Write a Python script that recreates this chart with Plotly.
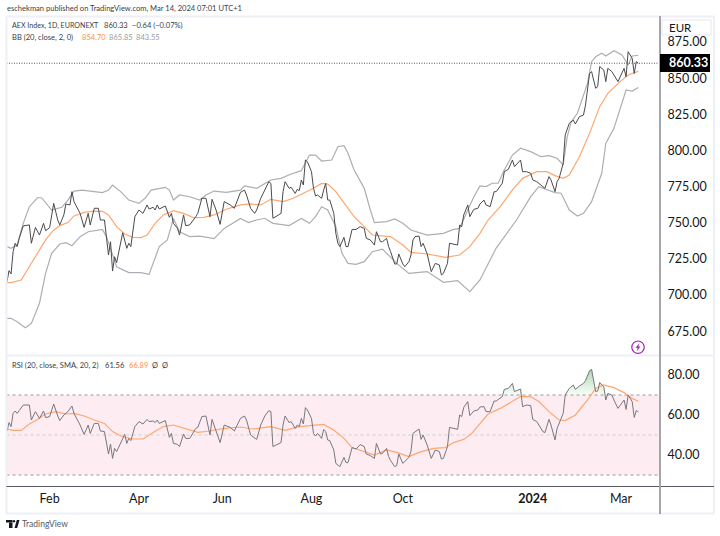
import numpy as np
import plotly.graph_objects as go

close_bars = [0,1,2,3,4,5,6,8,11,12,14,16,18,19,21,23,25,26,28,29,31,32,33,36,38,40,41,43,45,46,48,50,51,52,53,54,57,59,60,61,63,65,67,69,70,72,73,74,75,78,80,81,82,84,85,87,88,90,93,94,96,98,100,101,103,105,107,110,112,
 115,117,118,120,122,123,125,127,129,130,131,133,135,136,137,139,140,142,143,144,145,146,147,148,150,151,152,153,155,156,157,158,159,161,162,163,164,166,167,168,170,172,174,176,177,179,181,182,184,185,187,188,189,191,192,193,195,196,198,199,200,201,203,204,205,207,209,211,213,214,215,217,218,222,223,224,225,227,228,230,232,
 233,235,236,238,240,241,244,245,247,249,250,253,254,256,258,259,261,264,265,267,268,270,271,272,274,275,277,279,280,282,284,285,287,288,290,291,292,294,295,296,298,299,301,304,305,306,308,309,310,311]
close_vals = [709.3,716.9,714.6,730,735.8,733.5,739.2,747.8,748.5,735.8,746.8,741.5,749.6,744.5,746.6,763.4,751.9,748.5,755.4,763,762.3,771.5,764.6,756.5,746.8,756.5,748.5,760,760,751.9,751.9,727.7,736.9,716.6,726.5,722.4,743.1,732.3,735.8,733.5,754.2,758.8,756.5,762.3,759.5,760.7,758.8,762.3,759.5,761.6,753.8,756.5,749.6,746.1,741.5,755.4,748,748.5,754.2,756.5,766.9,766.9,754.2,766.2,758.8,748.9,764.6,762.3,760,
 771,772.6,769.2,760,756.5,758.8,766.9,772.6,778.4,777.2,753.1,754.7,756.5,771.5,778.4,773.8,774.5,770.3,773.1,772.2,779.6,776.1,793.4,792.2,785.3,773.8,768.5,769.2,766.9,772.6,777.2,765.7,765.7,756.5,742.7,735.8,733.5,739.9,733.5,733.5,745.4,745.4,747.3,746.1,739.2,738.1,734.6,743.8,736.9,736.9,739.2,733.5,730,721.5,721.5,728.4,721.5,719.6,723.1,727.7,738.1,740.4,740.8,733.5,735.8,728.4,716.2,721.9,720.8,713.9,715,721.9,735.8,734.6,748.4,747.3,755.4,762.3,754.2,759.3,760,
 763,765.7,762.3,761.1,771.5,771.5,777.3,785.3,787,793.4,788.8,793.4,785.3,785.3,784.2,779.6,778.4,775,773.8,781.9,779.6,771.5,778.4,780.7,791.1,810.7,818.8,821,818.3,823.4,824.5,831.4,853.3,854.5,843,844.1,858,855.6,847.6,856.8,854.5,852.2,847.6,856.8,851,868.3,863.7,853.3,861.4,860.33]

basis_bars = [0,2,7,9,12,15,19,23,26,30,33,38,43,47,50,54,58,62,66,69,73,77,82,87,92,97,102,108,115,120,125,130,136,141,146,151,155,158,162,167,171,176,180,189,195,199,207,216,223,228,233,237,243,249,254,261,266,270,274,277,282,287,292,296,302,306,311]
basis_vals = [708.6,708.6,710.4,715,721.9,728.9,738.1,745,748,750.1,754.7,757.2,758.1,757.9,755.4,747.3,742.2,739.9,739.7,741.5,749.6,755.4,758.4,756.5,753.5,753.7,755.4,759.3,762.3,763,762.3,766.2,764.6,766.9,770.3,773.8,777.2,776.8,771.5,762.3,754.2,747.3,741.5,740.4,734.6,729.5,728.4,726.1,727.7,733.5,742.7,751.9,761.1,772.7,780.7,785.3,785.3,782.6,780.7,783,795.7,811.8,830.3,839.5,847.6,852.2,854.7]

upper_bars = [0,2,5,8,11,15,17,20,22,27,30,33,37,41,47,50,52,56,60,65,68,71,78,80,82,85,90,95,98,102,108,115,117,123,130,135,140,145,149,152,155,160,163,166,168,171,176,179,181,187,191,195,199,207,215,220,223,227,230,233,236,239,242,245,249,253,258,263,267,271,274,276,278,281,286,288,290,293,295,299,303,306,308,311]
upper_vals = [733.5,732.3,734.6,749.6,761.1,767.3,767.3,762.3,758.8,760.7,765.7,771.9,772.6,771.9,770.8,772.6,776.1,771.5,765.7,763.4,766.9,772.6,774.5,772.6,765.7,769.2,768,765.7,769.2,771.9,771,772.5,775.4,773.8,779.6,780.7,783.7,786,796.8,796.8,792.7,793.4,802.6,803.3,798,786.5,773.8,758.8,750.1,750.8,752.6,749.6,745,741.5,742.7,745.4,746.1,758.8,768,775.5,775,777.3,777.3,786.5,796.8,801.5,799.2,795.7,796.4,794.6,790,809.5,819.9,825.7,846.4,861.4,864.8,867.2,865.3,869,866,859.1,865.3,865.85]

lower_bars = [0,2,5,9,12,16,19,22,26,29,32,36,40,47,49,54,60,66,70,73,75,79,82,85,90,95,102,107,115,119,123,127,131,139,145,149,152,155,158,162,165,168,172,176,180,185,192,198,207,215,222,228,233,241,251,258,262,270,273,277,281,284,288,293,295,299,303,305,308,311]
lower_vals = [683.9,683.9,681.6,677.4,680.4,694.3,715,728.9,735.3,736.2,734.1,740.4,743.8,745.4,740.4,719.6,715.5,715.5,714.3,726.5,733.5,738.1,753,743.8,740.4,740.8,739,746.1,753,750.1,751.9,753.1,749.6,748,753,749.6,754.2,761.1,758.8,747.3,728.9,721.9,721.2,723.1,730,731.8,721.9,715,716.2,708.8,710,702.3,710.4,732.5,751.9,768,775,770.8,770.4,758.8,754.7,756.5,764.6,784.2,804.9,815.3,832.6,841.8,841.1,843.55]

rsi_bars = [0,1,2,3,4,5,6,8,11,12,14,16,18,19,21,23,25,26,28,30,32,33,36,38,40,41,43,45,46,48,50,51,52,53,54,58,59,60,61,63,65,67,69,70,72,73,74,75,78,80,81,82,84,85,87,88,90,93,94,96,98,100,101,103,105,107,110,112,
 115,117,118,120,122,123,125,127,129,130,131,133,135,136,137,139,140,142,143,144,145,146,147,148,150,151,152,153,155,156,157,158,159,161,162,163,164,166,167,168,170,172,174,176,177,179,181,182,184,185,187,188,189,191,192,193,195,198,199,200,201,203,204,205,207,209,211,213,214,215,217,218,222,223,224,225,227,228,230,232,
 233,235,236,238,240,241,244,245,247,249,250,253,254,256,258,259,261,264,265,267,268,270,271,272,274,275,277,279,280,282,284,285,287,288,290,291,292,294,295,296,298,299,301,304,305,306,308,309,310,311]
rsi_vals = [52,56.2,54.2,60.8,62,60.8,62.2,65,65,57.5,61.7,58.3,62,58.7,59.2,65.5,59.5,57.2,60,61.7,64.5,60.8,55,50.3,55,50.8,55.8,55.8,52,51.7,40.5,45.5,38.3,43.3,41.7,50.3,45.8,48.3,47.2,54.2,56.7,55.5,57.8,56.7,57,56.2,57.5,55.8,57.2,48.8,50.8,45.8,45.3,44.2,50.5,48.3,48.3,53.3,53.8,59.2,59.5,50,57.8,52.5,46.2,55,53.8,52,
 58.3,59.5,57.5,50,48.3,47.8,55,59.5,62.2,61.7,44.2,45,46.2,55,59.5,56.2,56.7,53.3,55,54.2,58.3,55.5,63.7,62.5,58.3,50.8,49.5,50.8,48.3,52.8,51.7,47.5,47.2,42.5,35.8,35,34.2,38.8,36.2,36.2,43.7,43,45.2,44.2,40.5,39.7,38.3,45.8,40.5,40.8,43.3,39.2,37.2,34.2,34.7,40.5,35.8,38.8,41.7,50.8,51.7,53,47.8,50,45,38.3,42.5,41.7,38,38.3,44.2,53.8,52.8,60,59.2,63.8,66.7,59.7,62,62.5,
 64,64.2,61.7,61.7,67,67,69.2,72.8,73.3,75.8,71.7,73,64.2,65,64.7,57.8,56.7,51.7,51.2,57.8,55,47.5,53.3,55.8,60.8,70,73.3,75,72.8,74.5,75.8,77.2,82.2,82.8,71.7,72,76.2,74.2,67.5,70.8,70,67.5,63.3,67.5,62.8,70,66.7,58.8,62.2,61.56]

rsi_sma_bars = [0,3,7,11,15,19,24,29,33,38,43,48,52,56,62,67,72,77,82,88,94,100,107,115,121,130,137,144,151,156,161,166,170,176,181,187,192,198,203,210,216,220,225,229,233,237,243,249,253,258,262,267,272,275,280,286,290,294,299,304,308,311]
rsi_sma_vals = [53,52.3,52.3,55.5,57.8,60.5,61.7,60.5,60.8,59.5,57.5,55.8,51.7,49.5,48,48,51.2,54.2,55,53.3,51.3,52,53.3,54,53,54.2,52.3,54.2,54.7,55.3,52.5,48.3,43.7,41.7,40,42.5,41.3,39.2,41.3,43.3,43.7,46.2,47.8,50.8,55.8,60.5,63.3,66.7,69.2,69.2,66.7,61.7,57.5,57.2,60,67.5,73.3,75,73.7,71.2,68.3,66.89]

for a, b in [(close_bars, close_vals), (basis_bars, basis_vals), (upper_bars, upper_vals),
             (lower_bars, lower_vals), (rsi_bars, rsi_vals), (rsi_sma_bars, rsi_sma_vals)]:
    assert len(a) == len(b), (len(a), len(b))

x_tick_vals = [21, 65, 106, 150, 195, 259, 302.5]
x_tick_text = ["Feb", "Apr", "Jun", "Aug", "Oct", "<b>2024</b>", "Mar"]
price_ticks = [675, 700, 725, 750, 775, 800, 825, 850, 875]
rsi_ticks = [40, 60, 80]
rsi_levels = [30, 50, 70]
last_close = 860.33

W, H = 720, 536
FONT = "Lato"
INK = "#131722"
ORANGE = "#ffa66e"
BAND = "#adadb3"
FRAME = "#eef0f6"
SMALL = 7.55
px = lambda v: v / W
py = lambda v: 1 - v / H

fig = go.Figure()
fig.add_trace(go.Scatter(x=upper_bars, y=upper_vals, mode="lines", line=dict(color=BAND, width=1.2), yaxis="y"))
fig.add_trace(go.Scatter(x=lower_bars, y=lower_vals, mode="lines", line=dict(color=BAND, width=1.2), yaxis="y"))
fig.add_trace(go.Scatter(x=basis_bars, y=basis_vals, mode="lines", line=dict(color=ORANGE, width=1.2), yaxis="y"))
fig.add_trace(go.Scatter(x=close_bars, y=close_vals, mode="lines", line=dict(color="#4a4a4e", width=1), yaxis="y"))

over_base = [70] * len(rsi_bars)
fig.add_trace(go.Scatter(x=rsi_bars, y=over_base, mode="lines", line=dict(width=0), yaxis="y2"))
fig.add_trace(go.Scatter(x=rsi_bars, y=np.maximum(rsi_vals, 70).tolist(), mode="lines", line=dict(width=0),
                         fill="tonexty",
                         fillgradient=dict(type="vertical", colorscale=[[0, "rgba(76,175,80,0.04)"], [1, "rgba(56,142,60,0.40)"]]),
                         yaxis="y2"))
fig.add_trace(go.Scatter(x=rsi_sma_bars, y=rsi_sma_vals, mode="lines", line=dict(color=ORANGE, width=1.2), yaxis="y2"))
fig.add_trace(go.Scatter(x=rsi_bars, y=rsi_vals, mode="lines", line=dict(color="#77777d", width=1), yaxis="y2"))

shapes = []
shapes.append(dict(type="rect", xref="x domain", x0=0, x1=1, yref="y2", y0=rsi_levels[0], y1=rsi_levels[2],
                   fillcolor="#fdedf2", line_width=0, layer="below"))
for lv, col in zip(rsi_levels, ["#9a9a9a", "#cfcfcf", "#9a9a9a"]):
    shapes.append(dict(type="line", xref="x domain", x0=0, x1=1, yref="y2", y0=lv, y1=lv,
                       line=dict(color=col, width=1, dash="3px,3px"), layer="below"))
shapes.append(dict(type="line", xref="x domain", x0=0, x1=1, yref="y", y0=last_close, y1=last_close,
                   line=dict(color="#555555", width=1, dash="1px,1.5px")))


def paper_rect(x0, y0, x1, y1, fill, line=None, lw=0):
    shapes.append(dict(type="rect", xref="paper", yref="paper", x0=px(x0), x1=px(x1), y0=py(y0), y1=py(y1),
                       fillcolor=fill, line=dict(color=line or fill, width=lw)))


def paper_line(x0, y0, x1, y1, col, lw=1):
    shapes.append(dict(type="line", xref="paper", yref="paper", x0=px(x0), x1=px(x1), y0=py(y0), y1=py(y1),
                       line=dict(color=col, width=lw)))


# frame
paper_line(6.5, 16.5, 714, 16.5, FRAME, 2)
paper_line(6.5, 355.5, 714, 355.5, FRAME, 2)
paper_line(6.5, 513.5, 714, 513.5, FRAME, 2)
paper_line(6.5, 16, 6.5, 514, FRAME, 2)
paper_line(714, 16, 714, 514, FRAME, 2)
paper_line(6.5, 486.5, 714, 486.5, "#55585f", 1)
paper_line(660, 16, 660, 514, "#a4a6ab", 2)

# EUR box and last price tag
shapes.append(dict(type="rect", xref="paper", yref="paper", x0=px(662), x1=px(711), y0=py(20), y1=py(35),
                   fillcolor="white", line=dict(color="#e6e8ef", width=1)))
paper_rect(660, 54, 710, 72, "#000000")

# TradingView logo
paper_rect(6, 520, 12.5, 522.5, "#131722")
paper_rect(9, 522.5, 12.5, 528, "#131722")
shapes.append(dict(type="circle", xref="paper", yref="paper", x0=px(12.8), x1=px(15.2), y0=py(520), y1=py(522.4),
                   fillcolor="#131722", line_width=0))
shapes.append(dict(type="path", xref="paper", yref="paper",
                   path=f"M{px(14.5)},{py(528)} L{px(16.8)},{py(520)} L{px(19.5)},{py(520)} L{px(17.2)},{py(528)} Z",
                   fillcolor="#131722", line_width=0))

# lightning icon
shapes.append(dict(type="circle", xref="paper", yref="paper", x0=px(631.8), x1=px(644.2), y0=py(341), y1=py(353.4),
                   fillcolor="white", line=dict(color="#9c27b0", width=1.2)))
shapes.append(dict(type="path", xref="paper", yref="paper",
                   path=f"M{px(639.5)},{py(343)} L{px(635.5)},{py(347.8)} L{px(637.7)},{py(347.8)} L{px(636.5)},{py(351.5)} "
                        f"L{px(640.5)},{py(346.6)} L{px(638.3)},{py(346.6)} Z",
                   fillcolor="#9c27b0", line_width=0))

annotations = []


def label(x, y, text, size=SMALL, color=INK, anchor="left"):
    annotations.append(dict(xref="paper", yref="paper", x=px(x), y=py(y), text=text, showarrow=False,
                            xanchor=anchor, yanchor="middle", align="left", borderpad=0,
                            font=dict(family=FONT, size=size, color=color)))


label(6, 9, "eschekman published on TradingView.com, Mar 14, 2024 07:01 UTC+1", SMALL, "#3a3d46")
label(11, 26, "AEX Index, 1D, EURONEXT", 7.1, "#3a3d46")
label(103.5, 26, "860.33", SMALL, "#3a3d46")
label(131, 26, "\u22120.64 (\u22120.07%)", SMALL, "#3a3d46")
label(11, 37, "BB (20, close, 2, 0)", SMALL, "#3a3d46")
label(80.5, 37, "854.70", SMALL, "#ff8f42")
label(107.5, 37, "865.85", SMALL, "#9a9ca3")
label(134.5, 37, "843.55", SMALL, "#9a9ca3")
label(11, 365, "RSI (20, close, SMA, 20, 2)", SMALL, "#3a3d46")
label(104, 365, "61.56", SMALL, "#3a3d46")
label(127.5, 365, "66.89", SMALL, "#ff8f42")
label(151, 365, "\u00d8", SMALL, "#3a3d46")
label(161, 365, "\u00d8", SMALL, "#3a3d46")
label(667.5, 27.5, "EUR", 11.5, INK)
label(667.5, 63, "<b>860.33</b>", 12.5, "#ffffff")
label(21, 524, "TradingView", 8.5, "#55585f")

fig.update_layout(
    width=W, height=H, autosize=False,
    margin=dict(l=0, r=0, t=0, b=0),
    paper_bgcolor="white", plot_bgcolor="rgba(0,0,0,0)",
    showlegend=False, hovermode=False,
    shapes=shapes, annotations=annotations,
    xaxis=dict(domain=[px(6.5), px(660)], range=[-0.25, 321.7], anchor="y2",
               tickmode="array", tickvals=x_tick_vals, ticktext=x_tick_text,
               showgrid=False, zeroline=False, showline=False, ticks="outside", ticklen=0.5,
               tickcolor="rgba(0,0,0,0)", tickfont=dict(family=FONT, size=12.5, color=INK)),
    yaxis=dict(domain=[py(355.5), py(16.5)], range=[875 - (355.5 - 42) / 1.446, 875 + (42 - 16.5) / 1.446],
               side="right", anchor="x", tickmode="array", tickvals=price_ticks, tickformat=".2f",
               showgrid=False, zeroline=False, showline=False, ticks="outside", ticklen=4,
               tickcolor="rgba(0,0,0,0)", tickfont=dict(family=FONT, size=12.5, color=INK)),
    yaxis2=dict(domain=[py(486.5), py(355.5)], range=[60 - (486.5 - 415) / 2, 60 + (415 - 355.5) / 2],
                side="right", anchor="x", tickmode="array", tickvals=rsi_ticks, tickformat=".2f",
                showgrid=False, zeroline=False, showline=False, ticks="outside", ticklen=4,
                tickcolor="rgba(0,0,0,0)", tickfont=dict(family=FONT, size=12.5, color=INK)),
)

fig.write_html("out.html", config=dict(displayModeBar=False),
               post_script="document.body.style.margin='0';document.body.style.overflow='hidden';")
